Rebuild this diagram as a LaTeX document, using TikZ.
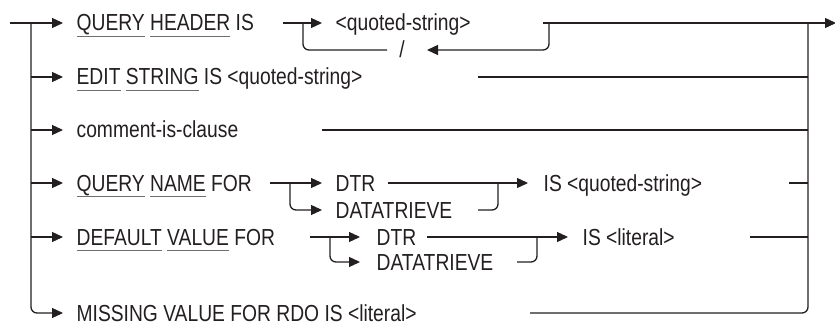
\documentclass[tikz,border=0pt]{standalone}
\usepackage{fontspec}
\setmainfont{Liberation Sans}[FakeStretch=0.83]
\usetikzlibrary{arrows.meta}
\definecolor{ink}{HTML}{231F20}
\definecolor{ulgray}{HTML}{6D6E71}
\newsavebox\ulbox
\newcommand\ulw[1]{\sbox\ulbox{#1}\rlap{\textcolor{ulgray}{\rule[-6pt]{\wd\ulbox}{1.2pt}}}\usebox\ulbox}
\begin{document}
\begin{tikzpicture}[x=1pt,y=-1pt,line width=1.3pt,draw=ink,
  lbl/.style={anchor=base west,inner sep=0pt,font=\fontsize{23.2}{27}\selectfont,text=ink},
  arr/.style={-{Triangle[length=11pt,width=10pt]}},
  rc/.style={rounded corners=6pt}]
\useasboundingbox (0,0) rectangle (835,326);
% ---------- coordinates
\coordinate (start) at (10,23);
\coordinate (L1) at (31,23);
\coordinate (L2) at (31,77);
\coordinate (L3) at (31,130);
\coordinate (L4) at (31,183);
\coordinate (L5) at (31,237);
\coordinate (A1) at (63,23);
\coordinate (A2) at (63,77);
\coordinate (A3) at (63,130);
\coordinate (A4) at (63,183);
\coordinate (A5) at (63,237);
\coordinate (A6) at (63,313);
\coordinate (R1) at (808,23);
\coordinate (R2) at (808,77);
\coordinate (R3) at (808,130);
\coordinate (R4) at (808,183);
\coordinate (R5) at (808,237);
\coordinate (exit) at (836,23);
% ---------- texts
\node[lbl] (t1) at (76,31) {\ulw{QUERY} \ulw{HEADER} IS};
\node[lbl] (qs1) at (335,31) {<quoted-string>};
\node[lbl,anchor=base] (sl) at (402,58) {/};
\node[lbl] (t2) at (76,85) {\ulw{EDIT} \ulw{STRING} IS <quoted-string>};
\node[lbl] (t3) at (76,138) {comment-is-clause};
\node[lbl] (t4) at (76,191) {\ulw{QUERY} \ulw{NAME} FOR};
\node[lbl] (dtr4) at (335,191) {DTR};
\node[lbl] (dat4) at (335,218) {DATATRIEVE};
\node[lbl] (is4) at (543,191) {IS <quoted-string>};
\node[lbl] (t5) at (76,245) {\ulw{DEFAULT} \ulw{VALUE} FOR};
\node[lbl] (dtr5) at (376,245) {DTR};
\node[lbl] (dat5) at (376,270) {DATATRIEVE};
\node[lbl] (is5) at (582,245) {IS <literal>};
\node[lbl] (t6) at (76,321) {MISSING VALUE FOR RDO IS <literal>};
% ---------- left bus
\draw[arr] (start) -- (A1);
\draw[rc,arr] (L1) |- (A6);
\draw[arr] (L2) -- (A2);
\draw[arr] (L3) -- (A3);
\draw[arr] (L4) -- (A4);
\draw[arr] (L5) -- (A5);
% ---------- row 1
\coordinate (h1a) at (283,23);
\coordinate (h1t) at (322,23);
\coordinate (h1b) at (303,23);
\coordinate (h1s) at (387,50);
\coordinate (h1r) at (549,23);
\coordinate (h1rt) at (427,50);
\coordinate (h1o) at (543,23);
\draw[arr] (h1a) -- (h1t);
\draw[rc] (h1b) |- (h1s);
\draw[rc,arr] (h1r) |- (h1rt);
\draw[arr] (h1o) -- (exit);
% ---------- row 2, 3
\coordinate (e2) at (478,77);
\draw (e2) -- (R2);
\coordinate (e3) at (322,130);
\draw (e3) -- (R3);
% ---------- row 4
\coordinate (f4) at (270,183);
\coordinate (f4t) at (322,183);
\coordinate (f4b) at (290,183);
\coordinate (f4bt) at (322,210);
\coordinate (g4) at (388,183);
\coordinate (g4t) at (528,183);
\coordinate (m4a) at (478,210);
\coordinate (m4b) at (498,183);
\coordinate (e4) at (789,183);
\draw[arr] (f4) -- (f4t);
\draw[rc,arr] (f4b) |- (f4bt);
\draw[arr] (g4) -- (g4t);
\draw[rc] (m4a) -| (m4b);
\draw (e4) -- (R4);
% ---------- row 5
\coordinate (f5) at (310,237);
\coordinate (f5t) at (360,237);
\coordinate (f5b) at (330,237);
\coordinate (f5bt) at (360,262);
\coordinate (g5) at (427,237);
\coordinate (g5t) at (568,237);
\coordinate (m5a) at (517,262);
\coordinate (m5b) at (537,237);
\coordinate (e5) at (750,237);
\draw[arr] (f5) -- (f5t);
\draw[rc,arr] (f5b) |- (f5bt);
\draw[arr] (g5) -- (g5t);
\draw[rc] (m5a) -| (m5b);
\draw (e5) -- (R5);
% ---------- row 6 and right bus
\coordinate (e6) at (530,313);
\draw[rc] (e6) -| (R1);
\end{tikzpicture}
\end{document}
